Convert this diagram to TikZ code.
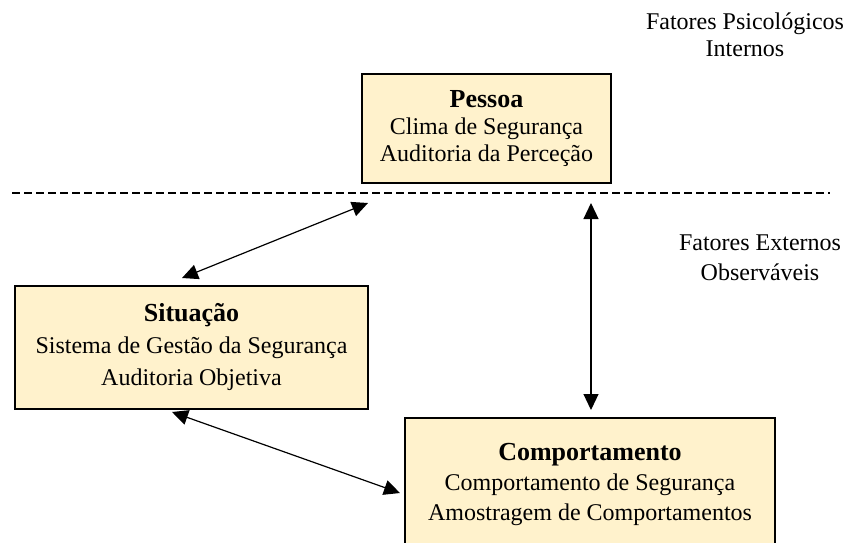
\documentclass[tikz,border=0pt]{standalone}
\usepackage{fontspec}
\setmainfont{Liberation Serif}
\usetikzlibrary{arrows.meta, positioning}
\definecolor{boxfill}{HTML}{FFF2CC}

\begin{document}
\begin{tikzpicture}[x=0.5pt, y=-0.5pt,
    box/.style={draw, line width=1pt, fill=boxfill, align=center, inner sep=0pt,
        font=\fontsize{12}{#1}\selectfont},
    twoway/.style={{Triangle[length=8pt,width=7.5pt]}-{Triangle[length=8pt,width=7.5pt]},
        line width=0.6pt},
    side/.style={align=center, font=\fontsize{12}{#1}\selectfont}]

    \useasboundingbox (0,0) rectangle (847,542);
    \clip (0,0) rectangle (847,542);

    % boxes
    \node[box=13.5pt, minimum width=124.5pt, minimum height=54.5pt] (pessoa) at (486.5,128.5)
        {{\bfseries\fontsize{13}{13}\selectfont Pessoa}\\Clima de Segurança\\Auditoria da Perceção};
    \node[box=16pt, minimum width=176.5pt, minimum height=61.5pt] (situacao) at (191.5,347)
        {{\bfseries\fontsize{13}{13}\selectfont Situação}\\Sistema de Gestão da Segurança\\Auditoria Objetiva};
    \node[box=15pt, minimum width=185pt, minimum height=66pt] (comport) at (590,484)
        {{\bfseries\fontsize{13}{13}\selectfont Comportamento}\\Comportamento de Segurança\\Amostragem de Comportamentos};

    % side labels
    \node[side=13.5pt] (internos) at (745,35) {Fatores Psicológicos\\Internos};
    \node[side=15pt] (externos) at (760,258) {Fatores Externos\\Observáveis};

    % divider
    \coordinate (L) at (12,193);
    \coordinate (R) at (830,193);
    \draw[line width=1.2pt, dash pattern=on 4pt off 2pt] (L) -- (R);

    % arrow ends
    \coordinate (s1) at (182,278);
    \coordinate (p1) at (368,203);
    \coordinate (p2) at (591,203);
    \coordinate (c2) at (591,410);
    \coordinate (s3) at (172,412);
    \coordinate (c3) at (400,493);

    \foreach \a/\b in {s1/p1, p2/c2, s3/c3}
        \draw[twoway] (\a) -- (\b);

\end{tikzpicture}
\end{document}
